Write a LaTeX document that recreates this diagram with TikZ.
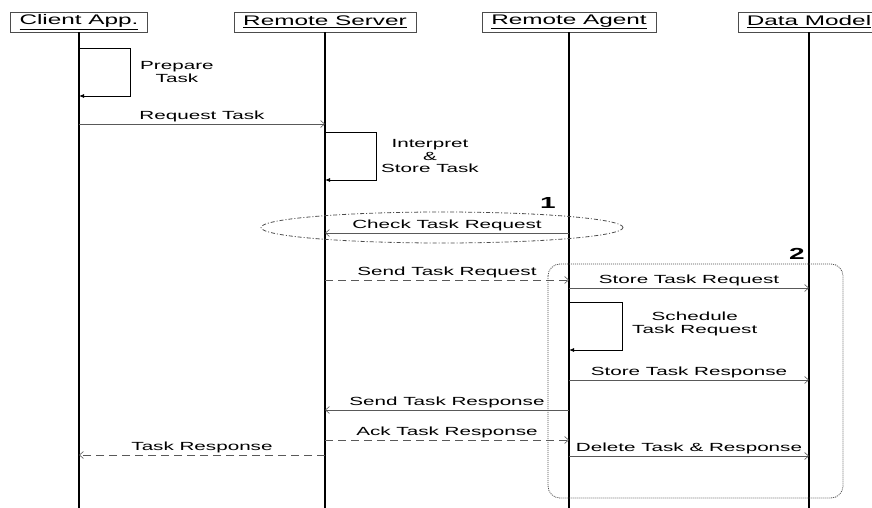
\documentclass[tikz,border=0pt]{standalone}
\usepackage{fontspec}
\setmainfont{Liberation Sans}[FakeStretch=1.75]
\usetikzlibrary{arrows.meta}

\begin{document}
\begin{tikzpicture}[x=1pt,y=-1pt,>={Straight Barb[length=4pt,width=7pt]},
  obj/.style={draw=black!70,fill=white,minimum height=20pt,inner xsep=9pt,inner ysep=0pt,
    font=\fontsize{13.9}{14}\selectfont},
  life/.style={line width=1.3pt},
  msg/.style={->,draw=black!65,line width=0.6pt},
  reply/.style={msg,dash pattern=on 8pt off 5pt},
  selfmsg/.style={-{Latex[length=5pt,width=4pt]},line width=0.8pt},
  lbl/.style={font=\fontsize{11.8}{12.5}\selectfont,text=black,align=center,inner sep=2pt},
  tag/.style={font=\fontsize{16}{16}\bfseries},
  group/.style={draw=black!70,line width=0.8pt}]
  \useasboundingbox (0,0) rectangle (872,508);

  % objects and their lifelines
  \node[obj] (C) at (79,22)  {\underline{Client App.}};
  \node[obj] (S) at (325,22) {\underline{Remote Server}};
  \node[obj] (A) at (569,22) {\underline{Remote Agent}};
  \node[obj] (D) at (809,22) {\underline{Data Model}};
  \foreach \n in {C,S,A,D}
    \draw[life] (\n.south) -- (\n |- 0,508);

  \draw[selfmsg] (C |- 0,48) -| (130,96) -- (C |- 0,96);
  \node[lbl,anchor=west] (prep) at (138,72) {Prepare\\Task};
  \draw[msg] (C |- 0,124) -- node[lbl,above] (req) {Request Task} (S |- 0,124);

  \draw[selfmsg] (S |- 0,132) -| (376,180) -- (S |- 0,180);
  \node[lbl,anchor=west] (interp) at (379,156) {Interpret\\\&\\Store Task};

  % 1: polling
  \draw[group,dash pattern=on 4pt off 2pt on 1pt off 2pt] (442,227.5) ellipse [x radius=181pt,y radius=15.5pt];
  \node[tag] (one) at (548,203) {1};
  \draw[msg] (A |- 0,233) -- node[lbl,above] (chk) {Check Task Request} (S |- 0,233);

  \draw[reply] (S |- 0,280) -- node[lbl,above] (send) {Send Task Request} (A |- 0,280);

  % 2: agent side
  \draw[group,dash pattern=on 1pt off 1pt,rounded corners=12pt] (548,264) rectangle (843,498);
  \node[tag] (two) at (797,254) {2};
  \draw[msg] (A |- 0,288) -- node[lbl,above] (store) {Store Task Request} (D |- 0,288);
  \draw[selfmsg] (A |- 0,302) -| (622,350) -- (A |- 0,350);
  \node[lbl,anchor=west] (sched) at (630,324) {Schedule\\Task Request};
  \draw[msg] (A |- 0,380) -- node[lbl,above] (storeres) {Store Task Response} (D |- 0,380);

  \draw[msg] (A |- 0,410) -- node[lbl,above] (sendres) {Send Task Response} (S |- 0,410);
  \draw[reply] (S |- 0,440) -- node[lbl,above] (ack) {Ack Task Response} (A |- 0,440);
  \draw[msg] (A |- 0,456) -- node[lbl,above] (del) {Delete Task \& Response} (D |- 0,456);
  \draw[reply] (S |- 0,455) -- node[lbl,above] (res) {Task Response} (C |- 0,455);
\end{tikzpicture}
\end{document}
